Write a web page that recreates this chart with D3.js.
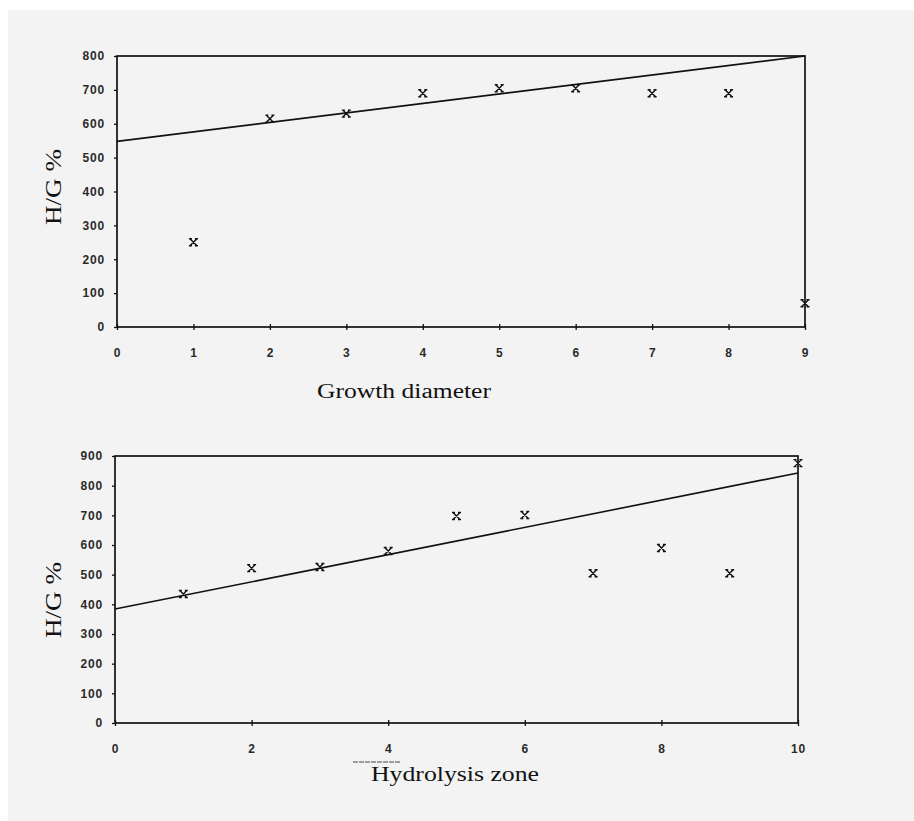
<!DOCTYPE html>
<html>
<head>
<meta charset="utf-8">
<script src="https://cdn.jsdelivr.net/npm/d3@7"></script>
<style>
  body { margin: 0; background: #ffffff; }
  .tick text { font-family: "Liberation Sans", Arial, sans-serif; font-size: 12px; font-weight: bold; fill: #2a2a2a; letter-spacing: 0.8px; }
  .axis-title { font-family: "Liberation Serif", "Times New Roman", serif; fill: #111; }
</style>
</head>
<body>
<div id="chart-area"></div>
<script>
// data
let growthX = [1, 2, 3, 4, 5, 6, 7, 8, 9];
let growthHG = [250, 615, 630, 690, 705, 705, 690, 690, 70];
let growthTrendX = [0, 9];
let growthTrendY = [548, 800];
let growthXTicks = [0, 1, 2, 3, 4, 5, 6, 7, 8, 9];
let growthYTicks = [0, 100, 200, 300, 400, 500, 600, 700, 800];

let hydroX = [1, 2, 3, 4, 5, 6, 7, 8, 9, 10];
let hydroHG = [435, 522, 526, 580, 698, 701, 505, 590, 505, 876];
let hydroTrendX = [0, 10];
let hydroTrendY = [384, 843];
let hydroXTicks = [0, 2, 4, 6, 8, 10];
let hydroYTicks = [0, 100, 200, 300, 400, 500, 600, 700, 800, 900];

let width = 914, height = 821;

let svg = d3.select("#chart-area").append("svg")
	.attr("width", width)
	.attr("height", height);

// scanned paper background
svg.append("rect").attr("width", width).attr("height", height).attr("fill", "#ffffff");
svg.append("rect")
	.attr("x", 8).attr("y", 10)
	.attr("width", width - 8).attr("height", height - 10)
	.attr("fill", "#f3f3f3");

// x marker like the typewriter style crosses in the scan
function crossPath(cx, cy) {
	let s = 3.5;
	return `M${cx - s},${cy - s}L${cx + s},${cy + s}M${cx + s},${cy - s}L${cx - s},${cy + s}` +
		`M${cx - s - 1},${cy - s}L${cx - s + 2},${cy - s}M${cx + s - 2},${cy - s}L${cx + s + 1},${cy - s}` +
		`M${cx - s - 1},${cy + s}L${cx - s + 2},${cy + s}M${cx + s - 2},${cy + s}L${cx + s + 1},${cy + s}`;
}

function drawPanel(cfg) {
	let xScale = d3.scaleLinear().domain(cfg.xDomain).range([cfg.left, cfg.right]);
	let yScale = d3.scaleLinear().domain(cfg.yDomain).range([cfg.bottom, cfg.top]);

	let g = svg.append("g");

	// frame
	g.append("rect")
		.attr("x", cfg.left).attr("y", cfg.top)
		.attr("width", cfg.right - cfg.left).attr("height", cfg.bottom - cfg.top)
		.attr("fill", "none")
		.attr("stroke", "#111")
		.attr("stroke-width", 1.7);

	let xAxis = d3.axisBottom(xScale)
		.tickValues(cfg.xTicks)
		.tickSize(4)
		.tickPadding(17)
		.tickFormat(d3.format("d"));

	let yAxis = d3.axisLeft(yScale)
		.tickValues(cfg.yTicks)
		.tickSize(3)
		.tickPadding(9)
		.tickFormat(d3.format("d"));

	let xg = g.append("g")
		.attr("transform", "translate(0," + cfg.bottom + ")")
		.call(xAxis);
	xg.select(".domain").remove();
	xg.selectAll(".tick line").attr("y1", -3).attr("y2", 3).attr("stroke", "#111").attr("stroke-width", 1.3);

	let yg = g.append("g")
		.attr("transform", "translate(" + cfg.left + ",0)")
		.call(yAxis);
	yg.select(".domain").remove();
	yg.selectAll(".tick line").attr("stroke", "#111").attr("stroke-width", 1.3);

	// fitted line
	let line = d3.line()
		.x(d => xScale(d[0]))
		.y(d => yScale(d[1]));
	g.append("path")
		.attr("d", line(d3.zip(cfg.trendX, cfg.trendY)))
		.attr("fill", "none")
		.attr("stroke", "#111")
		.attr("stroke-width", 1.6);

	// points
	g.selectAll(".pt")
		.data(d3.zip(cfg.xs, cfg.ys))
		.enter()
		.append("path")
		.attr("class", "pt")
		.attr("d", d => crossPath(xScale(d[0]), yScale(d[1])))
		.attr("fill", "none")
		.attr("stroke", "#111")
		.attr("stroke-width", 1.4);

	// axis titles
	g.append("text")
		.attr("class", "axis-title")
		.attr("x", cfg.xTitlePos[0]).attr("y", cfg.xTitlePos[1])
		.attr("text-anchor", "middle")
		.attr("font-size", 20)
		.attr("textLength", cfg.xTitleLen)
		.attr("lengthAdjust", "spacingAndGlyphs")
		.text(cfg.xTitle);

	g.append("text")
		.attr("class", "axis-title")
		.attr("transform", "translate(" + cfg.yTitlePos[0] + "," + cfg.yTitlePos[1] + ") rotate(-90)")
		.attr("text-anchor", "middle")
		.attr("font-size", 23)
		.attr("textLength", 76)
		.attr("lengthAdjust", "spacingAndGlyphs")
		.text("H/G %");
}

drawPanel({
	xDomain: [0, 9], yDomain: [0, 800],
	left: 117, right: 805, top: 56, bottom: 327,
	xTicks: growthXTicks, yTicks: growthYTicks,
	xs: growthX, ys: growthHG,
	trendX: growthTrendX, trendY: growthTrendY,
	xTitle: "Growth diameter", xTitlePos: [404, 398], xTitleLen: 174,
	yTitlePos: [61, 187]
});

drawPanel({
	xDomain: [0, 10], yDomain: [0, 900],
	left: 115, right: 798, top: 456, bottom: 723,
	xTicks: hydroXTicks, yTicks: hydroYTicks,
	xs: hydroX, ys: hydroHG,
	trendX: hydroTrendX, trendY: hydroTrendY,
	xTitle: "Hydrolysis zone", xTitlePos: [455, 781], xTitleLen: 168,
	yTitlePos: [61, 600]
});

// short dashed stroke left on the scan above the lower title
svg.append("line")
	.attr("x1", 353).attr("x2", 400)
	.attr("y1", 762).attr("y2", 762)
	.attr("stroke", "#444")
	.attr("stroke-width", 1)
	.attr("stroke-dasharray", "5,1");
</script>
</body>
</html>
